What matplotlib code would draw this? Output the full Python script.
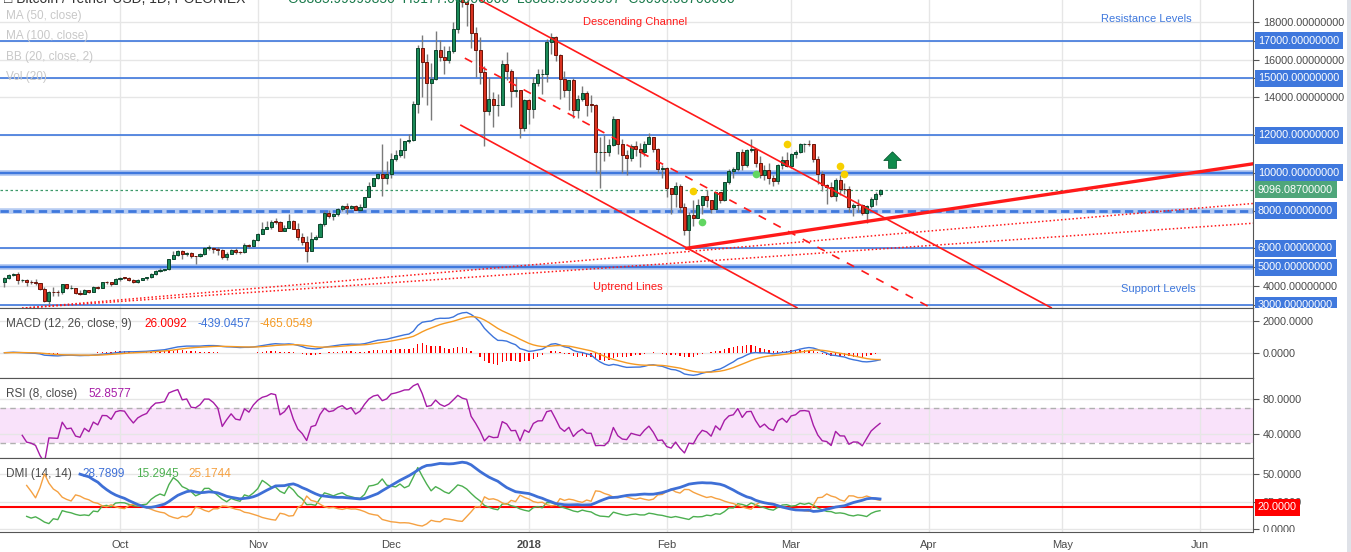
import matplotlib
matplotlib.use('Agg')
import matplotlib.pyplot as plt
import matplotlib.dates as mdates
from matplotlib.path import Path
from matplotlib.patches import Rectangle
from matplotlib.transforms import Bbox
import numpy as np
import pandas as pd

plt.rcParams['font.family'] = ['Liberation Sans', 'DejaVu Sans']

# ---- daily candles BTC/USDT (Poloniex), 2017-09-05 .. 2018-03-21 ----
first_open = 4200
closes = [
    # Sep
    4410, 4610, 4660, 4305, 4330, 4220, 4200, 4160, 3860, 3190, 3690, 3680, 3670,
    4110, 3890, 3910, 3620, 3570, 3800, 3690, 3970, 3890, 4220, 4215, 4130, 4400,
    # Oct
    4450, 4440, 4320, 4210, 4340, 4410, 4460, 4660, 4820, 4840, 4880, 5440, 5660,
    5870, 5690, 5750, 5600, 5590, 5720, 6030, 6030, 5980, 5900, 5530, 5720, 5920,
    5800, 5780, 6180, 6110, 6450,
    # Nov
    6770, 7030, 7150, 7420, 7400, 6930, 7090, 7470, 7030, 6590, 6340, 5880, 6520,
    6590, 7300, 7880, 7720, 7800, 8090, 8250, 8120, 8250, 8040, 8210, 8710, 9300,
    9740, 9920, 9740, 9950,
    # Dec
    10730, 10930, 11230, 11670, 11720, 13620, 16620, 15880, 14730, 14960, 16530,
    16130, 15950, 16460, 17600, 19300, 19060, 18960, 17380, 16530, 15350, 13280,
    13900, 13580, 13615, 15740, 15400, 14340, 14375, 12375, 13844,
    # Jan
    13400, 14780, 15224, 15250, 16940, 17200, 16230, 14960, 14375, 14905, 13313,
    13897, 14250, 13615, 13600, 11100, 11120, 11080, 11455, 12836, 11545, 10920,
    10810, 11420, 11240, 11100, 11545, 11900, 11280, 10220, 10250,
    # Feb
    9190, 8890, 9280, 8180, 6980, 7740, 7620, 8270, 8750, 8570, 8075, 8960, 8535,
    9510, 10075, 10220, 11100, 10395, 11190, 11243, 10515, 9862, 10165, 9740, 9560,
    10395, 10660, 10360,
    # Mar
    10978, 11100, 11510, 11545, 11510, 10750, 9950, 9330, 9240, 8750, 9600, 9155,
    9140, 8180, 8310, 8290, 7860, 8220, 8630, 8870, 9096.087,
]
highs = [
    4480, 4660, 4700, 4750, 4380, 4350, 4330, 4380, 4180, 3930, 3760, 3930, 3780,
    4130, 4110, 4050, 3920, 3780, 3830, 3800, 3990, 3990, 4230, 4290, 4240, 4420,
    4480, 4500, 4460, 4350, 4370, 4440, 4490, 4680, 4840, 4960, 4920, 5450, 5860,
    5900, 5900, 5800, 5780, 5620, 5740, 6080, 6190, 6080, 6080, 5940, 5780, 5980,
    6000, 5880, 6280, 6230, 6480,
    6800, 7400, 7470, 7500, 7620, 7440, 7210, 7800, 7480, 7320, 6800, 6640, 6880,
    6710, 7340, 7970, 8010, 7860, 8110, 8280, 8380, 8310, 8280, 8350, 8730, 9530,
    9750, 9970, 11510, 10600,
    11050, 11200, 11860, 11680, 12040, 13800, 16760, 17290, 16300, 15800, 17510,
    17030, 16700, 16700, 18000, 19700, 19900, 19150, 19000, 17700, 17200, 15650,
    15060, 14300, 14200, 16000, 16400, 15500, 15100, 14400, 13900,
    13900, 15100, 15500, 15500, 17100, 17380, 17260, 16300, 15400, 14910, 15000,
    14100, 14600, 14350, 14100, 13650, 11900, 12000, 11800, 13000, 12840, 11800,
    11200, 11500, 11700, 11600, 11700, 12100, 11920, 11300, 10400,
    10300, 9200, 9500, 9400, 8400, 7900, 8550, 8600, 8750, 9100, 8570, 9000, 8980,
    9520, 10200, 10300, 11100, 11250, 11260, 11810, 11250, 10900, 10420, 10500,
    9900, 10450, 10880, 11100,
    11050, 11200, 11580, 11560, 11760, 11520, 10900, 10100, 9400, 9500, 9700, 9900,
    9450, 9300, 8400, 8600, 8350, 8280, 8700, 9000, 9150,
]
lows = [
    3930, 4380, 4520, 4110, 4200, 3980, 4120, 4080, 3780, 3150, 3070, 3500, 3480,
    3600, 3850, 3860, 3560, 3520, 3560, 3640, 3670, 3860, 3880, 4130, 4020, 4130,
    4290, 4390, 4260, 4180, 4190, 4320, 4330, 4440, 4580, 4760, 4780, 4830, 5420,
    5570, 5450, 5620, 5500, 5180, 5560, 5650, 5900, 5740, 5660, 5460, 5390, 5710,
    5700, 5700, 5740, 6040, 6100,
    6380, 6760, 7000, 7030, 7290, 6920, 6920, 7080, 7000, 6440, 6180, 5300, 5870,
    6430, 6590, 7180, 7600, 7500, 7700, 8000, 7830, 8080, 8030, 8000, 8200, 8700,
    9300, 9650, 8760, 9420,
    9700, 10620, 10860, 10800, 11560, 11700, 13150, 14020, 13600, 12800, 14900,
    15900, 15220, 15800, 16350, 17400, 18800, 17800, 16600, 15100, 14700, 11420,
    13040, 12400, 13000, 13600, 14900, 13500, 14000, 11830, 12200,
    12600, 12900, 14600, 14200, 14800, 16300, 15900, 13900, 14000, 13300, 12900,
    12900, 13800, 13000, 13200, 10000, 9170, 10600, 10900, 11400, 11000, 10000,
    9900, 10600, 10900, 10300, 10900, 11500, 11100, 10000, 9700,
    8700, 7800, 8200, 7900, 6700, 6060, 7200, 7600, 7800, 8200, 7850, 8075, 8400,
    8520, 9400, 9700, 10100, 10150, 10300, 11100, 10300, 9750, 9600, 9400, 9300,
    9400, 10200, 10300,
    10230, 10780, 11050, 11100, 11400, 10570, 9400, 9050, 8350, 8720, 8500, 8800,
    8900, 7900, 7700, 7950, 7780, 7330, 8130, 8300, 8780,
]
dates = pd.date_range('2017-09-05', periods=len(closes), freq='D')
opens = [first_open] + closes[:-1]

# horizontal levels drawn on the chart
levels_thin = [17000, 15000, 12000, 6000, 3000]
levels_thick = [10000, 5000]
level_dashed = 8000
last_price = 9096.087

# drawn trend lines: (date, price) end points
channel_upper = [('2017-12-17 00:00', 19667), ('2018-04-28 12:00', 2856)]
channel_lower = [('2017-12-16 17:00', 12517), ('2018-03-02 07:00', 2856)]
channel_mid = [('2017-12-17 14:00', 16073), ('2018-04-01 10:00', 2856)]
uptrend_main = [('2018-02-05 12:00', 6004), ('2018-06-13 00:00', 10480)]
uptrend_dot1 = [('2017-09-08 23:00', 2829), ('2018-06-13 00:00', 8377)]
uptrend_dot2 = [('2017-09-08 23:00', 2829), ('2018-06-13 00:00', 7331)]

yellow_dots = [('2018-02-07', 9050), ('2018-02-28', 11508), ('2018-03-12', 10340), ('2018-03-13', 9916)]
green_dots = [('2018-02-09', 7421), ('2018-02-21', 9916)]
arrow_pos = ('2018-03-23 14:00', 10659)

month_ticks = ['2017-10-01', '2017-11-01', '2017-12-01', '2018-01-01', '2018-02-01',
               '2018-03-01', '2018-04-01', '2018-05-01', '2018-06-01']
month_labels = ['Oct', 'Nov', 'Dec', '2018', 'Feb', 'Mar', 'Apr', 'May', 'Jun']

# ---- indicators from the candles ----
c = pd.Series(closes, index=dates, dtype=float)
h = pd.Series(highs, index=dates, dtype=float)
l = pd.Series(lows, index=dates, dtype=float)

macd = c.ewm(span=12, adjust=False).mean() - c.ewm(span=26, adjust=False).mean()
signal = macd.ewm(span=9, adjust=False).mean()
hist = macd - signal

delta = c.diff().iloc[1:]
gain = delta.clip(lower=0).ewm(alpha=1 / 8, adjust=True).mean()
loss = (-delta.clip(upper=0)).ewm(alpha=1 / 8, adjust=True).mean()
rsi = 100 - 100 / (1 + gain / loss)
rsi.iloc[:3] = np.nan  # warm-up

upm = h.diff().iloc[1:]
dnm = -l.diff().iloc[1:]
pdm = pd.Series(np.where((upm > dnm) & (upm > 0), upm, 0.0), index=upm.index)
mdm = pd.Series(np.where((dnm > upm) & (dnm > 0), dnm, 0.0), index=upm.index)
tr = pd.concat([h - l, (h - c.shift()).abs(), (l - c.shift()).abs()], axis=1).max(axis=1).iloc[1:]
rma = lambda s: s.ewm(alpha=1 / 14, adjust=True).mean()
atr = rma(tr)
pdi = 100 * rma(pdm) / atr
mdi = 100 * rma(mdm) / atr
adx = rma(100 * (pdi - mdi).abs() / (pdi + mdi))
# warm-up
pdi.iloc[:4] = np.nan
mdi.iloc[:4] = np.nan
adx.iloc[:16] = np.nan

# ---- figure ----
W, H = 1351, 552
fig = plt.figure(figsize=(W / 100, H / 100), dpi=100)
RIGHT = 1253


def pane(top, bottom):
    return fig.add_axes([0, 1 - bottom / H, RIGHT / W, (bottom - top) / H])


ax = pane(0, 307.7)
ax_m = pane(307.7, 377.7)
ax_r = pane(377.7, 458.3)
ax_d = pane(458.3, 531.7)
axes = [ax, ax_m, ax_r, ax_d]

x = mdates.date2num(dates)
xi = mdates.date2num(dates[1:])
dn = lambda s: mdates.date2num(pd.Timestamp(s))
mt = [dn(m) for m in month_ticks]
GRID = '#e6e6e6'
AXC = '#555555'
BLUE = '#3f78dd'
TXT = '#4a4a4a'

for a in axes:
    a.set_xlim(dn('2017-09-04'), dn('2018-06-12 22:00'))
    a.set_xticks(mt)
    a.grid(True, color=GRID, lw=1)
    a.set_axisbelow(True)
    a.spines['left'].set_visible(False)
    for s in ('top', 'bottom', 'right'):
        a.spines[s].set_color(AXC)
    a.yaxis.tick_right()
    a.tick_params(axis='y', direction='out', length=4, width=0.8, color=AXC,
                  labelsize=7.8, labelcolor=TXT, pad=3)
    a.tick_params(axis='x', length=0, labelbottom=False)
ax.spines['top'].set_visible(False)

ax_d.tick_params(axis='x', labelbottom=True, labelsize=8, labelcolor=TXT, pad=6)
ax_d.set_xticklabels(month_labels)
for t in ax_d.get_xticklabels():
    if t.get_text() == '2018':
        t.set_fontweight('bold')

# ---- price pane ----
ax.set_ylim(2856, 19152)
boxed = [17000, 15000, 12000, 10000, 8000, 6000, 5000, 3000]
yt = sorted(boxed + [4000, 14000, 16000, 18000])
ax.set_yticks(yt)
ax.set_yticklabels(['' if v in boxed else f'{v:.8f}' for v in yt])

for v in levels_thin:
    ax.axhline(v, color=BLUE, lw=1.2, zorder=2)
for v in levels_thick:
    ax.axhline(v, color='#a9c2f0', lw=4, zorder=2)
    ax.axhline(v, color=BLUE, lw=1.6, zorder=2)
ax.axhline(level_dashed, color='#b5cbf2', lw=4, zorder=2)
ax.axhline(level_dashed, color=BLUE, lw=2, ls=(0, (3, 1.6)), zorder=2)
ax.axhline(last_price, color='#3c9a6a', lw=0.9, ls=(0, (2, 2)), zorder=2)

o = np.array(opens, dtype=float)
cl = np.array(closes, dtype=float)
up = cl >= o
lo = np.minimum(o, cl)
hh = np.maximum(np.abs(cl - o), 25)
ax.vlines(x, lows, highs, color='#7a7a7a', lw=1, zorder=3)
ax.bar(x[up], hh[up], bottom=lo[up], width=0.68, color='#1a8a58', edgecolor='#0c452c', lw=0.7, zorder=4)
ax.bar(x[~up], hh[~up], bottom=lo[~up], width=0.68, color='#d9321f', edgecolor='#6b1409', lw=0.7, zorder=4)

RED = '#ff1a1a'
for seg, kw in [(channel_upper, dict(lw=1.2)), (channel_lower, dict(lw=1.2)),
                (channel_mid, dict(lw=1.2, ls=(0, (5, 5)))),
                (uptrend_main, dict(lw=2.4)),
                (uptrend_dot1, dict(lw=1.1, ls=(0, (1, 1.5)))),
                (uptrend_dot2, dict(lw=1.1, ls=(0, (1, 1.5))))]:
    ax.plot([dn(p[0]) for p in seg], [p[1] for p in seg], color=RED, zorder=5, **kw)

ax.plot([dn(p[0]) for p in yellow_dots], [p[1] for p in yellow_dots], 'o', ms=5.5,
        color='#f7d000', mec='none', zorder=6)
ax.plot([dn(p[0]) for p in green_dots], [p[1] for p in green_dots], 'o', ms=5.5,
        color='#62d662', mec='none', zorder=6)
arrow = Path([(0, 1), (1, 0), (0.45, 0), (0.45, -0.9), (-0.45, -0.9), (-0.45, 0), (-1, 0), (0, 1)])
ax.plot([dn(arrow_pos[0])], [arrow_pos[1]], marker=arrow, ms=12.5, color='#108a4c',
        mec='#0a5c33', mew=0.6, zorder=6)

ax.text(dn('2018-01-24 22:00'), 17984, 'Descending Channel', color=RED, fontsize=8, ha='center', va='center')
ax.text(dn('2018-01-23 08:00'), 3971, 'Uptrend Lines', color=RED, fontsize=8, ha='center', va='center')
ax.text(dn('2018-05-20 00:00'), 18143, 'Resistance Levels', color=BLUE, fontsize=8, ha='center', va='center')
ax.text(dn('2018-05-22 14:00'), 3865, 'Support Levels', color=BLUE, fontsize=8, ha='center', va='center')

clip_main = Bbox.from_extents(0, H - 307.7, W, H)
for v in boxed:
    t = ax.text(1 + 5 / RIGHT, v, f'{v:.8f}', transform=ax.get_yaxis_transform(),
                color='white', fontsize=7.8, ha='left', va='center',
                bbox=dict(boxstyle='square,pad=0.32', fc=BLUE, ec='none'))
    t.set_clip_on(True)
    t.set_clip_box(clip_main)
ax.text(1 + 5 / RIGHT, last_price, f'{last_price:.8f}', transform=ax.get_yaxis_transform(),
        color='white', fontsize=7.8, ha='left', va='center', clip_on=False,
        bbox=dict(boxstyle='square,pad=0.32', fc='#4fa67a', ec='none'))

for i, s in enumerate(['MA (50, close)', 'MA (100, close)', 'BB (20, close, 2)', 'Vol (20)']):
    ax.text(6 / RIGHT, 1 - (16 + 20.3 * i) / 307.7, s, transform=ax.transAxes,
            color='#c8c8c8', fontsize=8.5, ha='left', va='center')

fig.text(4 / W, 1 + 1 / H, '\u25a1 Bitcoin / Tether USD, 1D, POLONIEX', color='#333333',
         fontsize=10, ha='left', va='center')
fig.text(288 / W, 1 + 1 / H, 'O8885.99999850  H9177.00000000  L8885.99999997  C9096.08700000',
         color='#1b7a4c', fontsize=10, ha='left', va='center')

# ---- MACD pane ----
ax_m.set_ylim(-1577, 2840)
ax_m.set_yticks([0, 2000])
ax_m.set_yticklabels(['0.0000', '2000.0000'])
ax_m.bar(x, hist, width=0.3, color='#ff0000', zorder=3)
ax_m.plot(x, macd, color='#3d74db', lw=1, zorder=4)
ax_m.plot(x, signal, color='#f59a23', lw=1, zorder=4)
yl = 1 - (324 - 307.7) / 70
for xp, s, col in [(6, 'MACD (12, 26, close, 9)', TXT), (144, '26.0092', '#ff0000'),
                   (197, '-439.0457', '#3d74db'), (259, '-465.0549', '#f59a23')]:
    ax_m.text(xp / RIGHT, yl, s, transform=ax_m.transAxes, color=col, fontsize=8.5, ha='left', va='center')

# ---- RSI pane ----
ax_r.set_ylim(12.8, 104.1)
ax_r.set_yticks([40, 80])
ax_r.set_yticklabels(['40.0000', '80.0000'])
ax_r.axhspan(30, 70, color='#f9e2fa', zorder=0.5, lw=0)
for v in (30, 70):
    ax_r.axhline(v, color='#b0b0b0', lw=1, ls=(0, (4, 3)), zorder=1)
ax_r.plot(xi, rsi, color='#a61ca6', lw=1, zorder=4)
yl = 1 - (394 - 377.7) / 80.6
for xp, s, col in [(6, 'RSI (8, close)', TXT), (88, '52.8577', '#a61ca6')]:
    ax_r.text(xp / RIGHT, yl, s, transform=ax_r.transAxes, color=col, fontsize=8.5, ha='left', va='center')

# ---- DMI pane ----
ax_d.set_ylim(-2.5, 64.6)
ax_d.set_yticks([0, 25, 50])
ax_d.set_yticklabels(['0.0000', '25.0000', '50.0000'])
ax_d.axhline(20, color='#ff0000', lw=1.5, zorder=3)
ax_d.plot(xi, pdi, color='#4caf50', lw=1, zorder=4)
ax_d.plot(xi, mdi, color='#f5a142', lw=1, zorder=4)
ax_d.plot(xi, adx, color='#3e6fd6', lw=2, zorder=5)
ax_d.text(1 + 5 / RIGHT, 20, '20.0000', transform=ax_d.get_yaxis_transform(), color='white',
          fontsize=7.8, ha='left', va='center', clip_on=False, zorder=6,
          bbox=dict(boxstyle='square,pad=0.32', fc='#ff0000', ec='none'))
yl = 1 - (474 - 458.3) / 73.4
for xp, s, col in [(6, 'DMI (14, 14)', TXT), (82, '28.7899', '#3e6fd6'),
                   (136, '15.2945', '#4caf50'), (188, '25.1744', '#f5a142')]:
    ax_d.text(xp / RIGHT, yl, s, transform=ax_d.transAxes, color=col, fontsize=8.5, ha='left', va='center')

# mask below the last pane on the price scale, and the right edge strip
fig.add_artist(Rectangle((RIGHT / W + 0.0008, 0), 1, (H - 531.7) / H - 0.001,
                         transform=fig.transFigure, fc='white', ec='none', zorder=10))
fig.add_artist(Rectangle((1347 / W, 0), 4 / W, 1, transform=fig.transFigure,
                         fc='#dfe2e8', ec='none', zorder=11))

fig.savefig('out.png', dpi=100)
